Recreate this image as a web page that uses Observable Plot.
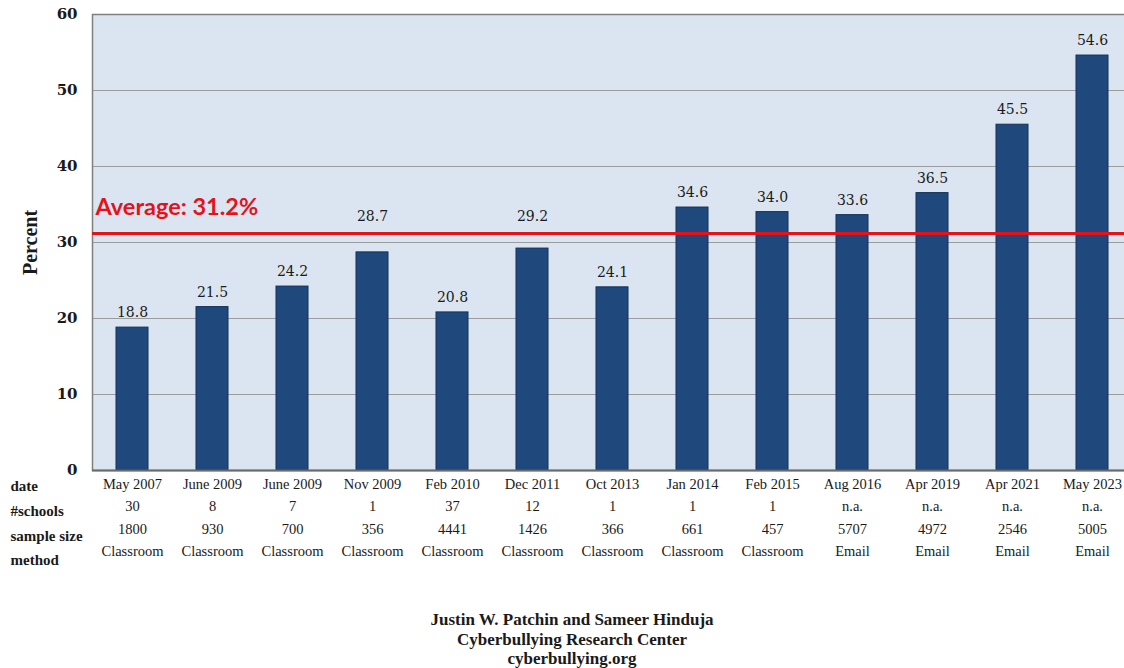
<!DOCTYPE html>
<html>
<head>
<meta charset="utf-8">
<script src="https://cdn.jsdelivr.net/npm/d3@7"></script>
<script src="https://cdn.jsdelivr.net/npm/@observablehq/plot@0.6"></script>
<style>
  html, body { margin: 0; padding: 0; background: #fff; width: 1124px; height: 668px; overflow: hidden; }
  #chart svg { display: block; max-width: none; }
  .credit {
    font: bold 17px "Liberation Serif", serif;
    color: #1a1a1a;
    text-align: center;
    line-height: 19.5px;
    width: 1104px;
    padding-left: 20px;
    padding-top: 30px;
  }
</style>
</head>
<body>
<div id="chart"></div>
<div class="credit">Justin W. Patchin and Sameer Hinduja<br>Cyberbullying Research Center<br>cyberbullying.org</div>
<script>
// Survey waves: lifetime cyberbullying victimization (%)
const dates = ["May 2007", "June 2009", "June 2009", "Nov 2009", "Feb 2010", "Dec 2011", "Oct 2013",
               "Jan 2014", "Feb 2015", "Aug 2016", "Apr 2019", "Apr 2021", "May 2023"];
const schools = ["30", "8", "7", "1", "37", "12", "1", "1", "1", "n.a.", "n.a.", "n.a.", "n.a."];
const sampleSizes = ["1800", "930", "700", "356", "4441", "1426", "366", "661", "457", "5707", "4972", "2546", "5005"];
const methods = ["Classroom", "Classroom", "Classroom", "Classroom", "Classroom", "Classroom", "Classroom",
                 "Classroom", "Classroom", "Email", "Email", "Email", "Email"];
const percents = [18.8, 21.5, 24.2, 28.7, 20.8, 29.2, 24.1, 34.6, 34.0, 33.6, 36.5, 45.5, 54.6];
const average = 31.2;
const yTicks = [0, 10, 20, 30, 40, 50, 60];
const rowLabels = ["date", "#schools", "sample size", "method"];

const data = dates.map((date, i) => ({
  i, date, schools: schools[i], sample: sampleSizes[i], method: methods[i], pct: percents[i]
}));

const serif = "'DejaVu Serif', serif";
const tableFont = "'Liberation Serif', serif";
const ink = "#1a1a1a";

// a value label that would sit on the average line is lifted just above it
const labelY = d => (d.pct < average && d.pct > average - 4) ? average + 0.3 : d.pct;

// one text row of the table under the bars
const tableRow = (field, dy) => Plot.text(data, {
  x: "i", text: field, frameAnchor: "bottom", dy, lineAnchor: "middle",
  fontFamily: tableFont, fontSize: 14.5, fill: ink
});

const chart = Plot.plot({
  width: 1132,
  height: 580,
  marginTop: 14,
  marginBottom: 110,
  marginLeft: 92,
  marginRight: 0,
  style: { background: "transparent", overflow: "visible" },
  x: { type: "band", domain: d3.range(dates.length), paddingInner: 0.6, paddingOuter: 0.3, axis: null },
  y: { domain: [0, 60], axis: null },
  marks: [
    Plot.frame({ fill: "#dbe5f1" }),
    Plot.gridY(yTicks.filter(t => t > 0 && t < 60), { stroke: "#9c9c9c", strokeOpacity: 1, strokeWidth: 1.2 }),
    Plot.frame({ stroke: "#7f7f7f", strokeWidth: 1.5 }),
    Plot.barY(data, { x: "i", y: "pct", fill: "#1f497d", stroke: "#12305a", strokeWidth: 1 }),
    Plot.ruleY([0], { stroke: "#6b6b6b", strokeWidth: 2 }),
    Plot.ruleY([average], { stroke: "#e3121b", strokeWidth: 3 }),
    Plot.text([average], {
      frameAnchor: "left", y: d => d, text: d => `Average: ${d.toFixed(1)}%`,
      textAnchor: "start", dx: 3, dy: -26, lineAnchor: "middle",
      fill: "#e3121b", fontFamily: "Lato, sans-serif", fontWeight: "bold", fontSize: 23.5
    }),
    Plot.text(data, {
      x: "i", y: labelY, text: d => d.pct.toFixed(1), dy: -15, lineAnchor: "middle",
      fontFamily: serif, fontSize: 14, fill: ink
    }),
    Plot.axisY(yTicks, {
      tickSize: 0, tickPadding: 15, label: null,
      fontFamily: serif, fontWeight: "bold", fontSize: 15, fill: ink
    }),
    Plot.text(["Percent"], {
      frameAnchor: "left", textAnchor: "middle", dx: -62, rotate: -90, lineAnchor: "middle",
      fontFamily: tableFont, fontWeight: "bold", fontSize: 20, fill: ink
    }),
    tableRow("date", 14),
    tableRow("schools", 36),
    tableRow("sample", 59),
    tableRow("method", 81),
    ...rowLabels.map((label, k) => Plot.text([label], {
      frameAnchor: "bottom-left", textAnchor: "start", lineAnchor: "middle",
      dx: -82, dy: 16 + k * 24.7,
      fontFamily: tableFont, fontWeight: "bold", fontSize: 15, fill: ink
    }))
  ]
});

document.getElementById("chart").append(chart);
</script>
</body>
</html>
